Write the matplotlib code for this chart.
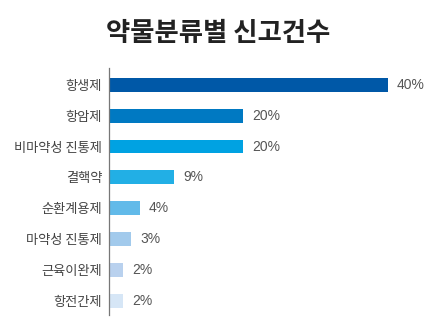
import matplotlib.pyplot as plt

plt.rcParams['font.family'] = ['Noto Sans CJK KR', 'DejaVu Sans']

categories = ['항생제', '항암제', '비마약성 진통제', '결핵약', '순환계용제',
              '마약성 진통제', '근육이완제', '항전간제']
values = [40, 19.2, 19.2, 9.3, 4.4, 3.2, 2.0, 2.0]
value_labels = ['40%', '20%', '20%', '9%', '4%', '3%', '2%', '2%']
colors = ['#0058a7', '#0079c2', '#00a2e2', '#22afe5', '#62bae9',
          '#a2caec', '#b9d1ee', '#d6e6f6']

fig = plt.figure(figsize=(4.39, 3.33), dpi=100)
ax = fig.add_axes([0.2483, 0.054, 0.7144, 0.7418])

pos = list(range(len(categories)))
ax.barh(pos, values, height=0.45, color=colors)

for p, v, lab in zip(pos, values, value_labels):
    ax.text(v + 1.3, p, lab, va='center', ha='left', fontsize=10,
            color='#555555', family=['Liberation Sans', 'DejaVu Sans'])

ax.set_yticks(pos)
ax.set_yticklabels(categories, fontsize=9.5, color='#444444')
ax.tick_params(axis='y', length=0, pad=5)
ax.set_xticks([])
ax.set_xlim(0, 45)
ax.set_ylim(7.45, -0.54)

for s in ['top', 'right', 'bottom']:
    ax.spines[s].set_visible(False)
ax.spines['left'].set_color('#777777')
ax.spines['left'].set_linewidth(0.9)

fig.text(0.497, 0.9, '약물분류별 신고건수', ha='center', va='center',
         fontsize=19, fontweight='bold', color='#222222')

fig.savefig('out.png', dpi=100)
